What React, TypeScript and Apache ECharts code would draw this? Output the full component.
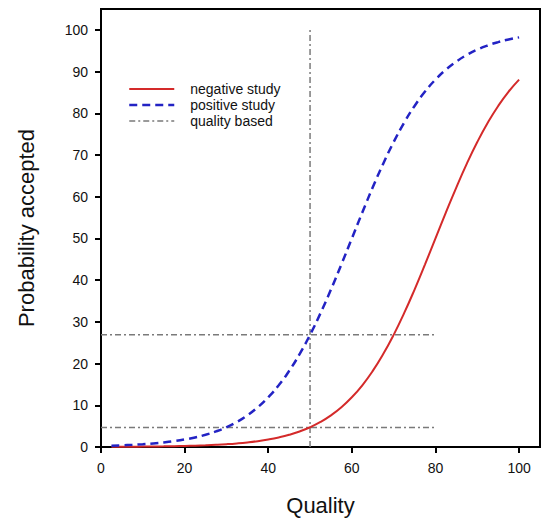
import React, { useEffect, useRef } from "react";
import * as echarts from "echarts";

// Quality values (x) at which the curves were read
const qualityPoints = [
  2.5, 5, 7.5, 10, 12.5, 15, 17.5, 20, 22.5, 25, 27.5, 30, 32.5, 35, 37.5, 40, 42.5, 45, 47.5, 50,
  52.5, 55, 57.5, 60, 62.5, 65, 67.5, 70, 72.5, 75, 77.5, 80, 82.5, 85, 87.5, 90, 92.5, 95, 97.5, 100,
];
// Probability accepted (%)
const negativeStudy = [
  0.043, 0.055, 0.071, 0.091, 0.117, 0.15, 0.193, 0.247, 0.317, 0.407, 0.522, 0.669, 0.858, 1.099, 1.406, 1.799, 2.3, 2.93, 3.73, 4.74,
  6.01, 7.59, 9.53, 11.92, 14.8, 18.24, 22.27, 26.89, 32.08, 37.75, 43.78, 50, 56.22, 62.25, 67.92, 73.11, 77.73, 81.76, 85.2, 88.08,
];
const positiveStudy = [
  0.317, 0.407, 0.522, 0.669, 0.858, 1.099, 1.406, 1.799, 2.3, 2.93, 3.73, 4.74, 6.01, 7.59, 9.53, 11.92, 14.8, 18.24, 22.27, 26.89,
  32.08, 37.75, 43.78, 50, 56.22, 62.25, 67.92, 73.11, 77.73, 81.76, 85.2, 88.08, 90.47, 92.41, 93.99, 95.26, 96.27, 97.07, 97.7, 98.2,
];

// Quality-based reference lines
const cutoffQuality = 50;
const cutoffTop = 100;
const refLineEnd = 80;
const positiveAtCutoff = 26.9;
const negativeAtCutoff = 4.7;

const xTicks = [0, 20, 40, 60, 80, 100];
const yTicks = [0, 10, 20, 30, 40, 50, 60, 70, 80, 90, 100];

const FONT = "Liberation Sans, Arial, sans-serif";
const RED = "#d42a2a";
const BLUE = "#2323c4";
const GREY = "#7a7a7a";
const DASH_DOT = [6, 3, 2, 3];
const DASH = [8, 5];

export default function App() {
  const ref = useRef<HTMLDivElement>(null);
  useEffect(() => {
    if (!ref.current) return;
    const chart = echarts.init(ref.current, null, { renderer: "svg" });
    const pair = (ys: number[]) => qualityPoints.map((x, i) => [x, ys[i]]);
    const refStyle = { color: GREY, width: 1.5, type: DASH_DOT };
    const hidden = { opacity: 0, borderWidth: 0 };
    chart.setOption({
      animation: false,
      backgroundColor: "#ffffff",
      textStyle: { fontFamily: FONT },
      grid: {
        left: 101,
        right: 11,
        top: 9,
        bottom: 79,
        show: true,
        borderColor: "#000",
        borderWidth: 2,
        backgroundColor: "transparent",
      },
      legend: {
        left: 128,
        top: 81,
        orient: "vertical",
        padding: 0,
        itemWidth: 45,
        itemHeight: 16,
        itemGap: 0,
        selectedMode: false,
        itemStyle: hidden,
        textStyle: { fontFamily: FONT, fontSize: 14, lineHeight: 16, color: "#111", padding: [0, 0, 0, 11] },
        data: [
          { name: "negative study", itemStyle: hidden, lineStyle: { width: 2, color: RED, type: "solid" } },
          { name: "positive study", itemStyle: hidden, lineStyle: { width: 2.5, color: BLUE, type: DASH } },
          { name: "quality based", itemStyle: hidden, lineStyle: { width: 1.5, color: GREY, type: DASH_DOT } },
        ],
      },
      xAxis: {
        type: "value",
        min: 0,
        max: 105,
        interval: 20,
        name: "Quality",
        nameLocation: "middle",
        nameGap: 47,
        nameTextStyle: { fontFamily: FONT, fontSize: 22, color: "#111" },
        splitLine: { show: false },
        axisLine: { show: true, lineStyle: { color: "#000", width: 2 } },
        axisTick: { show: true, inside: false, length: 6, customValues: xTicks, lineStyle: { color: "#000", width: 2 } },
        axisLabel: { customValues: xTicks, margin: 14, fontSize: 14, color: "#111", fontFamily: FONT },
      },
      yAxis: {
        type: "value",
        min: 0,
        max: 105,
        interval: 10,
        name: "Probability accepted",
        nameLocation: "middle",
        nameGap: 64,
        nameTextStyle: { fontFamily: FONT, fontSize: 22, color: "#111" },
        splitLine: { show: false },
        axisLine: { show: true, lineStyle: { color: "#000", width: 2 } },
        axisTick: { show: true, inside: false, length: 6, customValues: yTicks, lineStyle: { color: "#000", width: 2 } },
        axisLabel: { customValues: yTicks, margin: 13, fontSize: 14, color: "#111", fontFamily: FONT },
      },
      series: [
        {
          name: "negative study",
          type: "line",
          data: pair(negativeStudy),
          smooth: true,
          symbol: "none",
          lineStyle: { color: RED, width: 2 },
          itemStyle: { color: RED },
          z: 3,
        },
        {
          name: "positive study",
          type: "line",
          data: pair(positiveStudy),
          smooth: true,
          symbol: "none",
          lineStyle: { color: BLUE, width: 2.5, type: DASH },
          itemStyle: { color: BLUE },
          z: 3,
        },
        {
          name: "quality based",
          type: "line",
          data: [[cutoffQuality, 0], [cutoffQuality, cutoffTop]],
          symbol: "none",
          lineStyle: refStyle,
          itemStyle: { color: GREY },
          z: 2,
        },
        {
          name: "quality based",
          type: "line",
          data: [[0, positiveAtCutoff], [refLineEnd, positiveAtCutoff]],
          symbol: "none",
          lineStyle: refStyle,
          itemStyle: { color: GREY },
          z: 2,
        },
        {
          name: "quality based",
          type: "line",
          data: [[0, negativeAtCutoff], [refLineEnd, negativeAtCutoff]],
          symbol: "none",
          lineStyle: refStyle,
          itemStyle: { color: GREY },
          z: 2,
        },
      ],
    });
    return () => chart.dispose();
  }, []);
  return (
    <div
      ref={ref}
      style={{ position: "fixed", left: 0, top: 0, width: 551, height: 526, background: "#fff" }}
    />
  );
}
